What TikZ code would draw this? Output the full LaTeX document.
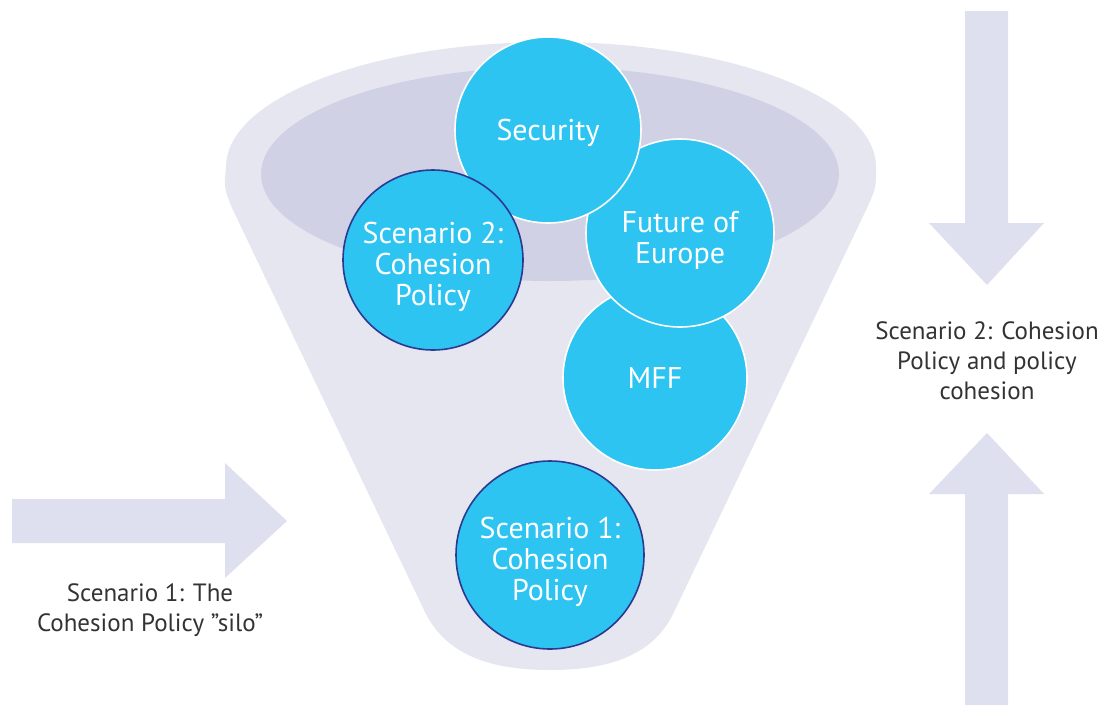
\documentclass[tikz,border=0pt]{standalone}
\usepackage{fontspec}
\setmainfont{PT Sans}
\definecolor{funnelout}{HTML}{E6E6F1}
\definecolor{funnelin}{HTML}{D1D1E5}
\definecolor{bubble}{HTML}{2DC4F2}
\definecolor{navy}{HTML}{2B3990}
\definecolor{arrowfill}{HTML}{DEE0EF}
\definecolor{labeltext}{HTML}{333333}
\newcommand{\toplift}{\rule{0pt}{36pt}}
\begin{document}
\begin{tikzpicture}[x=1pt, y=-1pt,
    topic/.style={circle, fill=bubble, draw=white, line width=1.6pt, minimum size=#1, inner sep=0pt,
        align=center, text=white, font=\fontsize{30}{31}\selectfont},
    scen/.style={topic=#1, draw=navy},
    side/.style={align=center, text=labeltext, font=\fontsize{25}{30}\selectfont}]
    \useasboundingbox (0,0) rectangle (1105,705);
    \fill[funnelout] (226,167) arc[start angle=180, end angle=360, x radius=325, y radius=125]
        .. controls (876,188) .. (867,208) -- (675,610)
        .. controls (655,655) and (610,670) .. (550,670)
        .. controls (490,670) and (445,655) .. (424,610) -- (232,208)
        .. controls (224,188) .. cycle;
    \fill[funnelin] (550,174) ellipse[x radius=289, y radius=107];
    \fill[arrowfill] (12,499) -- (225,499) -- (225,463) -- (287,521) -- (225,578) -- (225,543) -- (12,543) -- cycle;
    \fill[arrowfill] (965,11) -- (1008,11) -- (1008,223) -- (1044,223) -- (987,285) -- (929,223) -- (965,223) -- cycle;
    \fill[arrowfill] (965,705) -- (1008,705) -- (1008,494) -- (1044,494) -- (987,433) -- (929,494) -- (965,494) -- cycle;
    \node[topic=184pt] (mff) at (655,378) {MFF};
    \node[topic=188pt] (future) at (680,233) {\toplift Future of\\Europe};
    \node[topic=186pt] (security) at (548,130) {\rule{0pt}{27pt}Security};
    \node[scen=180pt] (scentwo) at (433,260) {\toplift Scenario 2:\\Cohesion\\Policy};
    \node[scen=188pt] (scenone) at (550,555) {\toplift Scenario 1:\\Cohesion\\Policy};
    \node[side] (silo) at (150,610) {Scenario 1: The\\Cohesion Policy ”silo”};
    \node[side] (cohesion) at (987,361) {Scenario 2: Cohesion\\Policy and policy\\cohesion};
\end{tikzpicture}
\end{document}
